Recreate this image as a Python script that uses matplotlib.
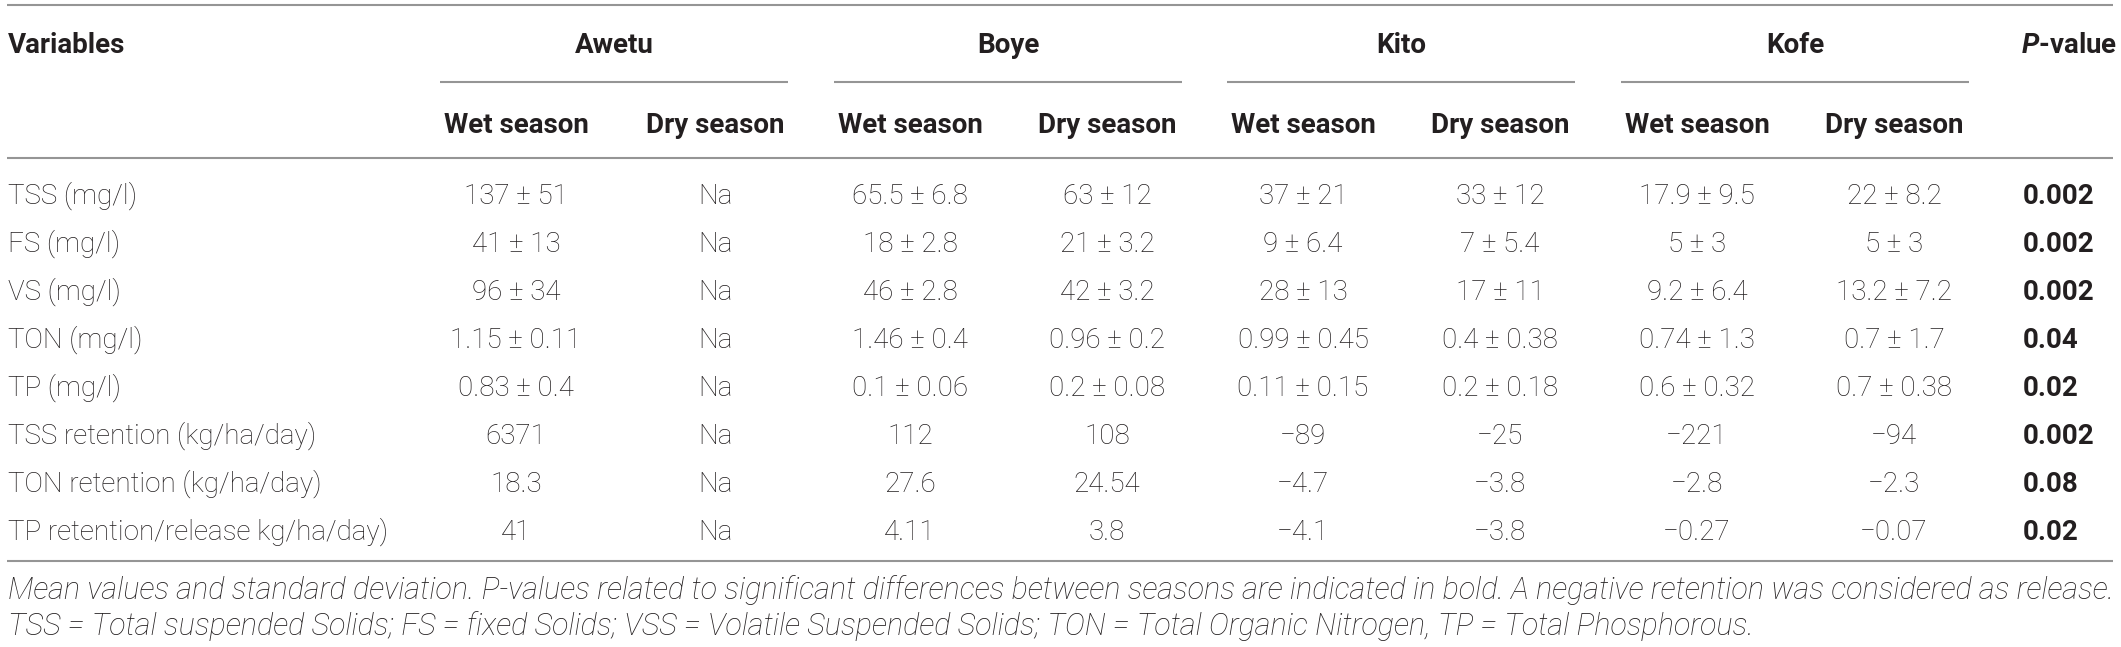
import matplotlib.pyplot as plt
from matplotlib import font_manager

# table content
sites = ["Awetu", "Boye", "Kito", "Kofe"]
seasons = ["Wet season", "Dry season"]
variables = ["TSS (mg/l)", "FS (mg/l)", "VS (mg/l)", "TON (mg/l)", "TP (mg/l)",
             "TSS retention (kg/ha/day)", "TON retention (kg/ha/day)",
             "TP retention/release kg/ha/day)"]
awetu_wet = ["137 ± 51", "41 ± 13", "96 ± 34", "1.15 ± 0.11", "0.83 ± 0.4",
             "6371", "18.3", "41"]
awetu_dry = ["Na"] * 8
boye_wet = ["65.5 ± 6.8", "18 ± 2.8", "46 ± 2.8", "1.46 ± 0.4", "0.1 ± 0.06",
            "112", "27.6", "4.11"]
boye_dry = ["63 ± 12", "21 ± 3.2", "42 ± 3.2", "0.96 ± 0.2", "0.2 ± 0.08",
            "108", "24.54", "3.8"]
kito_wet = ["37 ± 21", "9 ± 6.4", "28 ± 13", "0.99 ± 0.45", "0.11 ± 0.15",
            "−89", "−4.7", "−4.1"]
kito_dry = ["33 ± 12", "7 ± 5.4", "17 ± 11", "0.4 ± 0.38", "0.2 ± 0.18",
            "−25", "−3.8", "−3.8"]
kofe_wet = ["17.9 ± 9.5", "5 ± 3", "9.2 ± 6.4", "0.74 ± 1.3", "0.6 ± 0.32",
            "−221", "−2.8", "−0.27"]
kofe_dry = ["22 ± 8.2", "5 ± 3", "13.2 ± 7.2", "0.7 ± 1.7", "0.7 ± 0.38",
            "−94", "−2.3", "−0.07"]
p_values = ["0.002", "0.002", "0.002", "0.04", "0.02", "0.002", "0.08", "0.02"]
caption = [
    "Mean values and standard deviation. P-values related to significant "
    "differences between seasons are indicated in bold. A negative retention "
    "was considered as release.",
    "TSS = Total suspended Solids; FS = fixed Solids; VSS = Volatile Suspended "
    "Solids; TON = Total Organic Nitrogen, TP = Total Phosphorous.",
]

columns = [awetu_wet, awetu_dry, boye_wet, boye_dry,
           kito_wet, kito_dry, kofe_wet, kofe_dry]

installed = {f.name for f in font_manager.fontManager.ttflist}
family = "Roboto" if "Roboto" in installed else "Liberation Sans"
plt.rcParams["font.family"] = [family, "DejaVu Sans"]
plt.rcParams["mathtext.fontset"] = "custom"
plt.rcParams["mathtext.bfit"] = family + ":italic:bold"

W, H = 2121, 647
fig = plt.figure(figsize=(W / 100, H / 100), dpi=100)
ax = fig.add_axes([0, 0, 1, 1])
ax.set_xlim(0, W)
ax.set_ylim(H, 0)
ax.axis("off")

ink = "#231f20"
rule = "#959595"
fs = 20          # body text, points
fs_cap = 22      # footnote
half_cap = 10    # half cap-height in pixels, to centre on a baseline

col_x = [516, 715, 910, 1107, 1303, 1500, 1697, 1894]
site_x = [614, 1008, 1401, 1795]
x_left = 8
x_p = 2023
y_top, y_head1, y_ul, y_head2, y_rule = 5, 43, 82, 123, 158
y_rows = [194 + 48 * i for i in range(len(variables))]
y_bottom = 561
y_caption = [589, 625]


def put(x, y, s, **kw):
    ax.text(x, y + half_cap, s, va="baseline", color=ink, **kw)


# rules
for y in (y_top, y_rule, y_bottom):
    ax.plot([7, 2113], [y, y], color=rule, lw=1.5, solid_capstyle="butt")
for cx in site_x:
    ax.plot([cx - 174, cx + 174], [y_ul, y_ul], color=rule, lw=1.5,
            solid_capstyle="butt")

# header
put(x_left, y_head1, "Variables", ha="left", fontsize=fs, weight="bold")
for cx, name in zip(site_x, sites):
    put(cx, y_head1, name, ha="center", fontsize=fs, weight="bold")
put(2117, y_head1, r"$\mathbfit{P}$-value", ha="right", fontsize=fs,
    weight="bold")
for i, cx in enumerate(col_x):
    put(cx, y_head2, seasons[i % 2], ha="center", fontsize=fs, weight="bold")

# body
for r, y in enumerate(y_rows):
    put(x_left, y, variables[r], ha="left", fontsize=fs, weight="light")
    for cx, col in zip(col_x, columns):
        put(cx, y, col[r], ha="center", fontsize=fs, weight="light")
    put(x_p, y, p_values[r], ha="left", fontsize=fs, weight="bold")

# footnote
for y, line in zip(y_caption, caption):
    put(x_left, y, line, ha="left", fontsize=fs_cap, style="italic",
        weight="light")

fig.savefig("out.png", dpi=100)
